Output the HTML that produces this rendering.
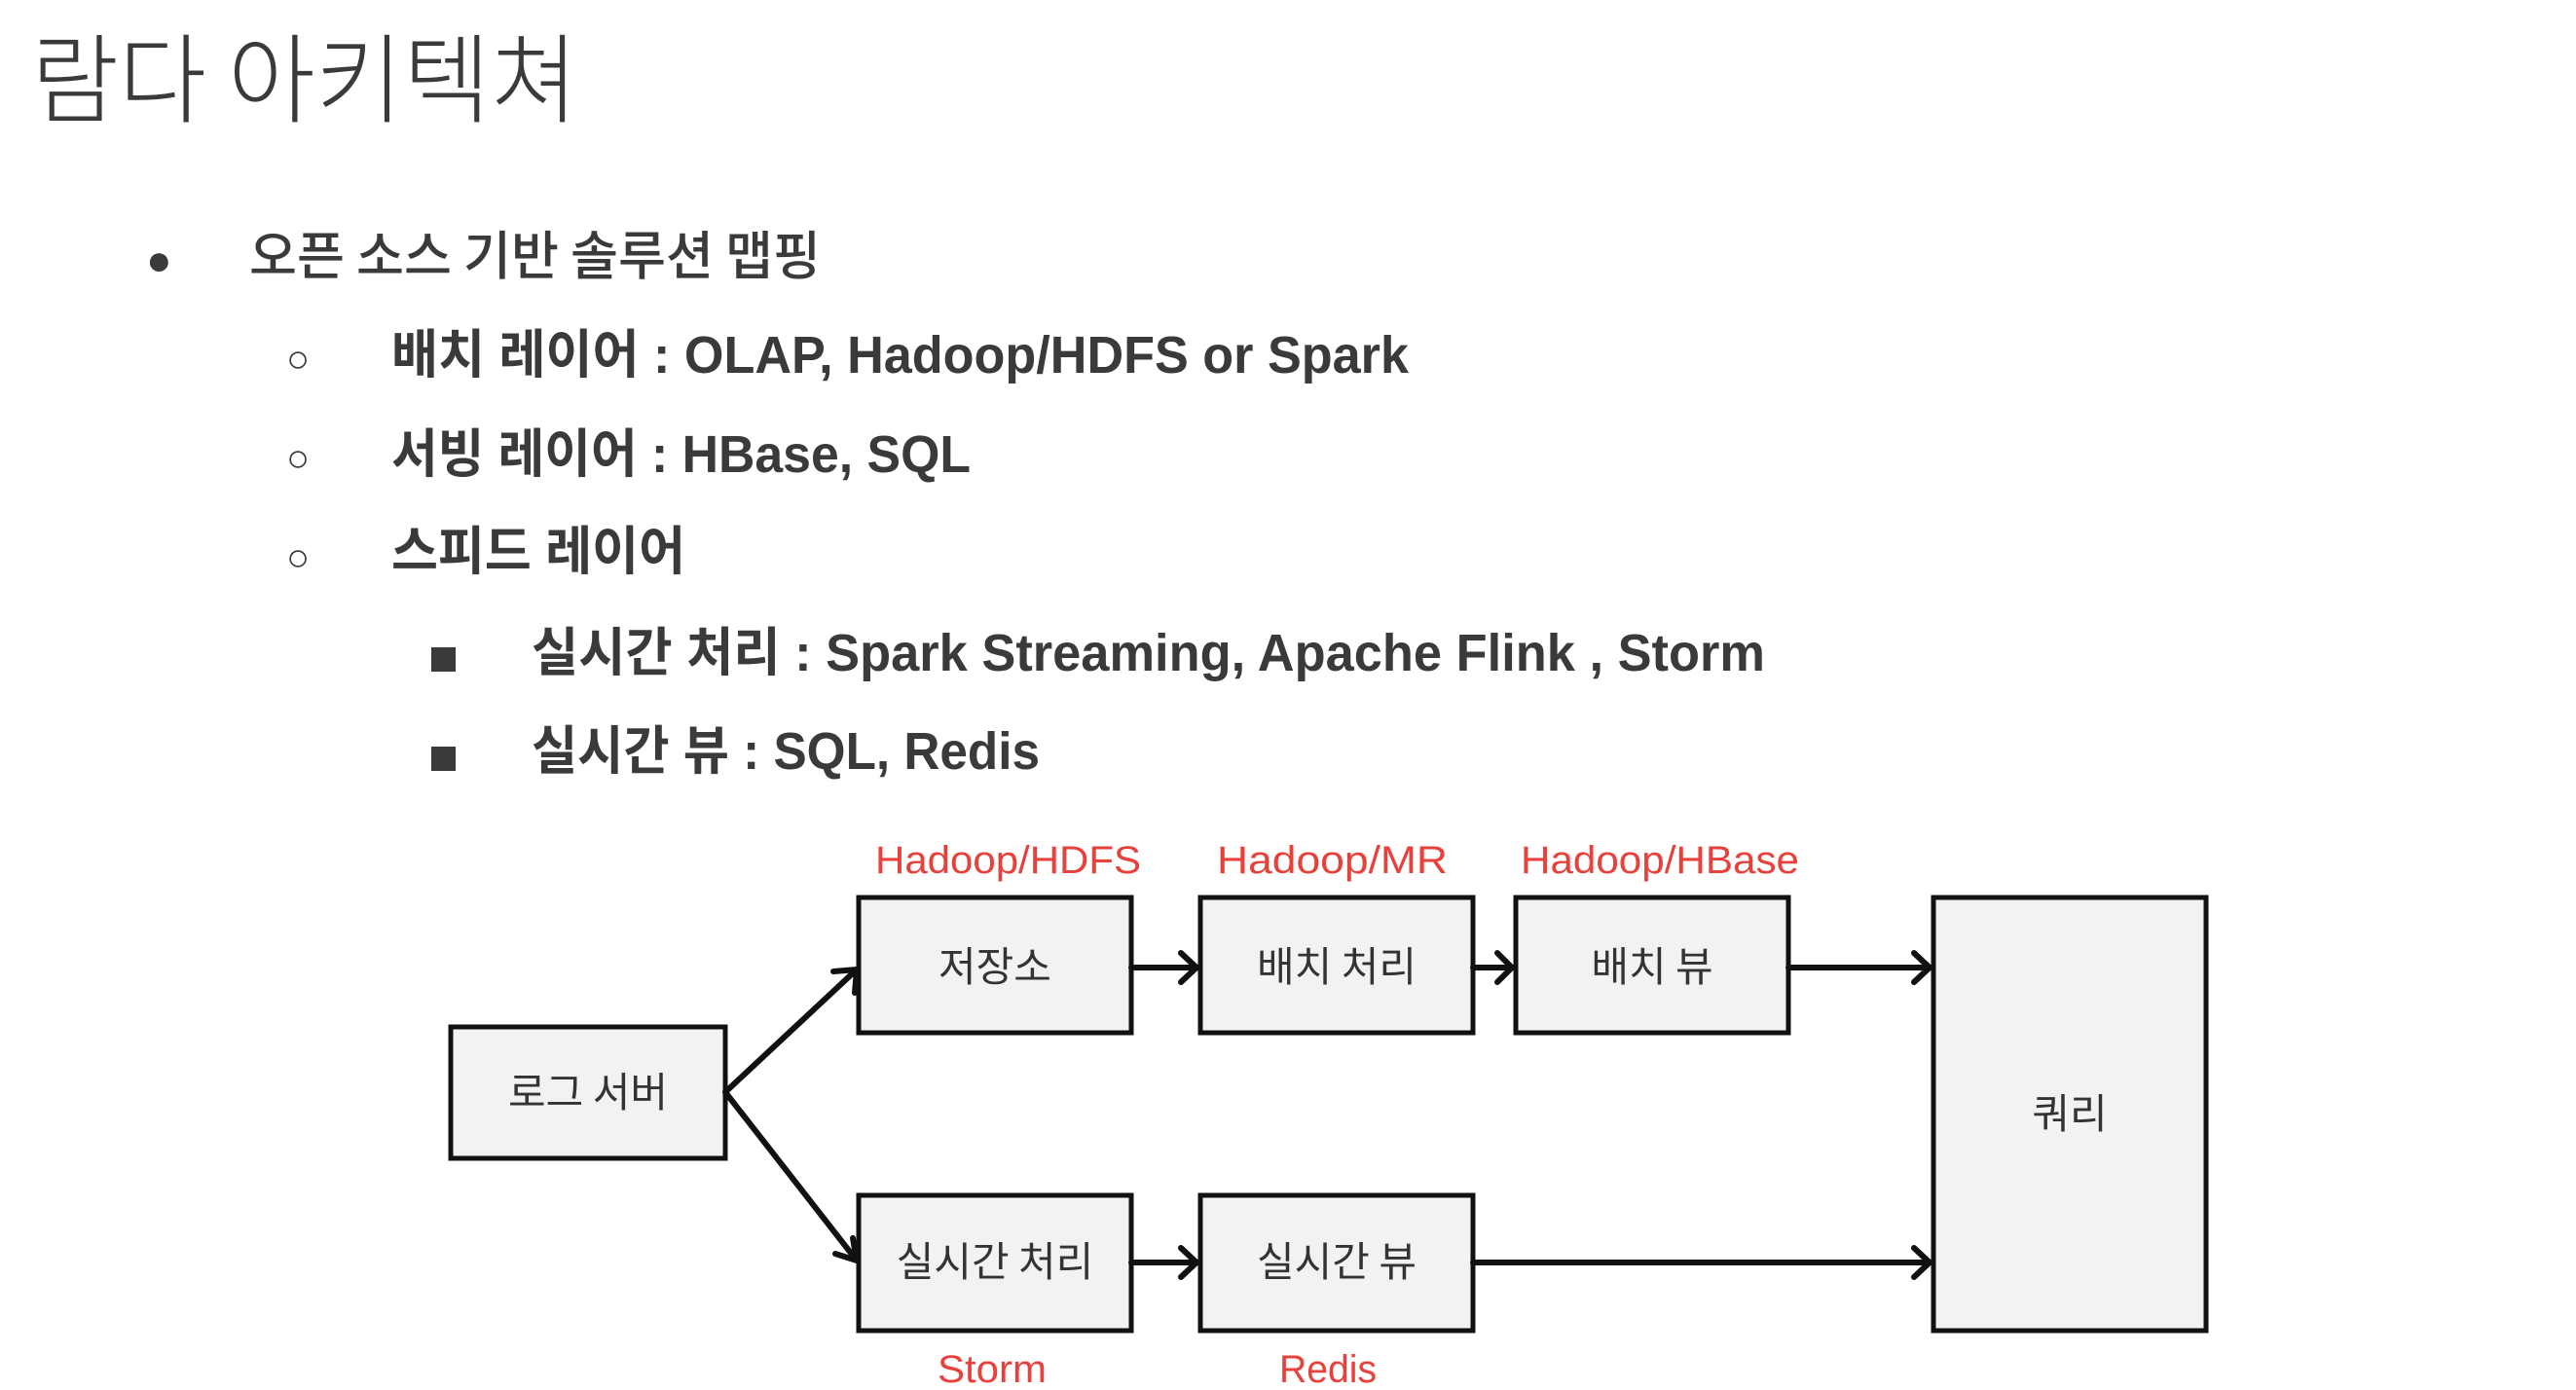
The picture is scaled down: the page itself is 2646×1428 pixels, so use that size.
<!DOCTYPE html>
<html><head><meta charset="utf-8"><style>
html,body{margin:0;padding:0;background:#fff;}
body{width:2646px;height:1428px;overflow:hidden;position:relative;}
svg{position:absolute;left:0;top:0;}
</style></head><body>
<svg width="2646" height="1428" viewBox="0 0 2646 1428" xmlns="http://www.w3.org/2000/svg">
<g font-family="'Liberation Sans','Noto Sans CJK KR',sans-serif" fill="#3a3a3a">
<text x="32" y="118" font-size="100" font-family="'Noto Sans CJK KR',sans-serif" font-weight="300" textLength="562" lengthAdjust="spacingAndGlyphs">람다 아키텍쳐</text>
<g font-size="54" font-weight="bold">
<text x="150" y="282" font-size="44">●</text>
<text x="256" y="282" font-family="'Noto Sans CJK KR',sans-serif" font-weight="500" textLength="587" lengthAdjust="spacingAndGlyphs">오픈 소스 기반 솔루션 맵핑</text>
<text x="294" y="382" font-size="40" font-weight="normal">○</text>
<text x="402" y="383" textLength="1045" lengthAdjust="spacingAndGlyphs">배치 레이어 : OLAP, Hadoop/HDFS or Spark</text>
<text x="294" y="484" font-size="40" font-weight="normal">○</text>
<text x="402" y="485" textLength="595" lengthAdjust="spacingAndGlyphs">서빙 레이어 : HBase, SQL</text>
<text x="294" y="586" font-size="40" font-weight="normal">○</text>
<text x="402" y="585" textLength="302" lengthAdjust="spacingAndGlyphs">스피드 레이어</text>
<rect x="443" y="665" width="25" height="25" fill="#3a3a3a"/>
<text x="546" y="689" textLength="1267" lengthAdjust="spacingAndGlyphs">실시간 처리 : Spark Streaming, Apache Flink , Storm</text>
<rect x="443" y="767" width="25" height="25" fill="#3a3a3a"/>
<text x="546" y="790" textLength="522" lengthAdjust="spacingAndGlyphs">실시간 뷰 : SQL, Redis</text>
</g>
</g>
<g stroke="#111" stroke-width="5" fill="#f2f2f2">
<rect x="463" y="1055" width="282" height="135"/>
<rect x="882" y="922" width="280" height="139"/>
<rect x="1233" y="922" width="280" height="139"/>
<rect x="1557" y="922" width="280" height="139"/>
<rect x="1986" y="922" width="280" height="445"/>
<rect x="882" y="1228" width="280" height="139"/>
<rect x="1233" y="1228" width="280" height="139"/>
</g>
<g stroke="#111" stroke-width="6" fill="none" stroke-linecap="round" stroke-linejoin="round">
<line x1="745" y1="1122" x2="880" y2="996"/><polyline points="856,998 880,996 878,1020"/>
<line x1="745" y1="1122" x2="880" y2="1295"/><polyline points="876,1272 880,1295 858,1288"/>
<line x1="1162" y1="994" x2="1229" y2="994"/><polyline points="1213,979 1229,994 1213,1009"/>
<line x1="1513" y1="994" x2="1553" y2="994"/><polyline points="1538,979 1553,994 1538,1009"/>
<line x1="1837" y1="994" x2="1982" y2="994"/><polyline points="1966,979 1982,994 1966,1009"/>
<line x1="1162" y1="1297" x2="1229" y2="1297"/><polyline points="1213,1282 1229,1297 1213,1312"/>
<line x1="1513" y1="1297" x2="1982" y2="1297"/><polyline points="1966,1282 1982,1297 1966,1312"/>
</g>
<g font-family="'Noto Sans CJK KR',sans-serif" font-size="42" fill="#333" text-anchor="middle">
<text x="604" y="1137">로그 서버</text>
<text x="1022" y="1008">저장소</text>
<text x="1373" y="1008">배치 처리</text>
<text x="1697" y="1008">배치 뷰</text>
<text x="2126" y="1159">쿼리</text>
<text x="1022" y="1311">실시간 처리</text>
<text x="1373" y="1311">실시간 뷰</text>
</g>
<g font-family="'Liberation Sans',sans-serif" font-size="40" fill="#e8403a">
<text x="899" y="897" textLength="273" lengthAdjust="spacingAndGlyphs">Hadoop/HDFS</text>
<text x="1250" y="897" textLength="237" lengthAdjust="spacingAndGlyphs">Hadoop/MR</text>
<text x="1562" y="897" textLength="286" lengthAdjust="spacingAndGlyphs">Hadoop/HBase</text>
<text x="963" y="1420" textLength="112" lengthAdjust="spacingAndGlyphs">Storm</text>
<text x="1314" y="1420" textLength="100" lengthAdjust="spacingAndGlyphs">Redis</text>
</g>
</svg>
</body></html>
